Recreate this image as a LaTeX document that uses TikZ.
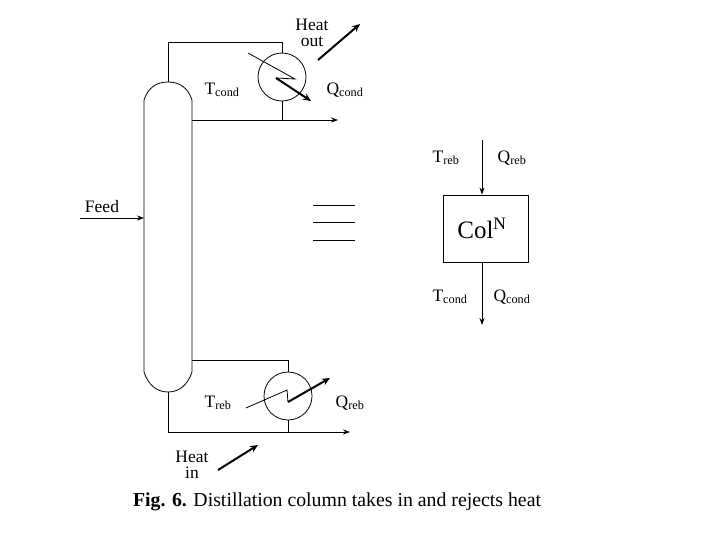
\documentclass[tikz,border=0pt]{standalone}
\usepackage{fontspec}
\setmainfont{Liberation Serif}
\usetikzlibrary{arrows.meta}
\begin{document}
\begin{tikzpicture}[x=1pt,y=-1pt,
  ln/.style={line width=0.8pt},
  arr/.style={line width=0.8pt,-{Stealth[length=7pt,width=5pt]}},
  thk/.style={line width=2pt,-{Stealth[length=8pt,width=7pt]}},
  lbl/.style={font=\fontsize{17.5}{16}\selectfont,inner sep=1pt}]
\useasboundingbox (0,0) rectangle (720,540);
% column
\draw[ln] (144,100) .. controls (148,88) and (156,82) .. (168,82) .. controls (180,82) and (188,88) .. (192,100) -- (192,372) .. controls (188,384) and (180,392) .. (168,392) .. controls (156,392) and (148,384) .. (144,372) -- cycle;
% condenser
\node[draw,ln,circle,minimum size=48pt,inner sep=0] (cond) at (282,77) {};
\coordinate (ctop) at (168,82);
\draw[ln] (ctop) -- (168,42) -| (cond.north);
\coordinate (dout) at (338,120);
\draw[ln] (cond.south) -- (282,120);
\draw[arr] (192,120) -- (dout);
\coordinate (ca) at (248,53); \coordinate (cb) at (295,79); \coordinate (cc) at (276,78); \coordinate (cd) at (311,101);
\draw[ln] (ca) -- (cb) -- (cc);
\draw[thk] (cc) -- (cd);
\coordinate (ho1) at (318,60); \coordinate (ho2) at (360,24);
\draw[thk] (ho1) -- (ho2);
\node[lbl,align=center] (hout) at (312,33) {Heat\\out};
\node[lbl] (tc) at (222,90) {T\textsubscript{cond}};
\node[lbl] (qc) at (345,90) {Q\textsubscript{cond}};
% reboiler
\node[draw,ln,circle,minimum size=48pt,inner sep=0] (reb) at (288,396) {};
\draw[ln] (192,360) -| (reb.north);
\coordinate (bout) at (350,432);
\draw[ln] (reb.south) -- (288,432);
\draw[arr] (168,392) -- (168,432) -- (bout);
\coordinate (ra) at (246,408); \coordinate (rb) at (287,390); \coordinate (rc) at (288,402); \coordinate (rd) at (330,378);
\draw[ln] (ra) -- (rb) -- (rc);
\draw[thk] (rc) -- (rd);
\coordinate (hi1) at (218,470); \coordinate (hi2) at (258,445);
\draw[thk] (hi1) -- (hi2);
\node[lbl,align=center] (hin) at (192,465) {Heat\\in};
\node[lbl] (tr) at (218,403) {T\textsubscript{reb}};
\node[lbl] (qr) at (350,403) {Q\textsubscript{reb}};
% feed
\coordinate (f0) at (80,218); \coordinate (f1) at (144,218);
\draw[arr] (f0) -- (f1);
\node[lbl] (feed) at (102,207) {Feed};
% equals lines
\foreach \yy in {205,222,240} \draw[ln] (313,\yy) -- (355,\yy);
% box
\node[draw,ln,minimum width=85pt,minimum height=67pt,inner sep=0] (box) at (485.5,228.5) {};
\node[font=\fontsize{25}{24}\selectfont] (col) at (482,228) {Col\textsuperscript{N}};
\coordinate (bi) at (482,140); \coordinate (bo) at (482,325);
\draw[arr] (bi) -- (box.north -| bi);
\draw[arr] (box.south -| bo) -- (bo);
\node[lbl] (t1) at (446,158) {T\textsubscript{reb}};
\node[lbl] (q1) at (512,158) {Q\textsubscript{reb}};
\node[lbl] (t2) at (450,297) {T\textsubscript{cond}};
\node[lbl] (q2) at (512,297) {Q\textsubscript{cond}};
\node[font=\fontsize{19.8}{20}\selectfont] (cap) at (337,502) {\textbf{Fig. 6.} Distillation column takes in and rejects heat};
\end{tikzpicture}
\end{document}
